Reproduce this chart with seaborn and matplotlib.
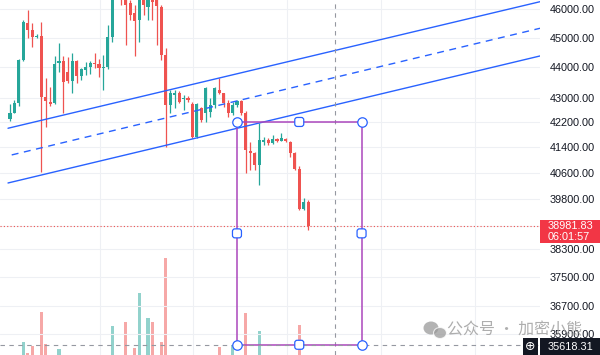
import matplotlib
matplotlib.use("Agg")
import matplotlib.pyplot as plt
import matplotlib.transforms as mtransforms
from matplotlib.patches import Rectangle, FancyBboxPatch, Ellipse
from matplotlib.ticker import NullLocator
import numpy as np
import seaborn as sns

# ---- candle data (bar index = position in list) ----
opens = [42303, 42497, 42822, 44248, 45512, 45270, 45029, 45064, 43018, 42855,
         42822, 44147, 44214, 43845, 43546, 44214, 43712, 43912, 44013, 44147,
         44113, 43979, 44013, 45029, 46670, 47206, 46493, 46210, 45860, 45616,
         46493, 46070, 46599, 46422, 46070, 44417, 42757, 43084, 43149, 42953,
         42986, 42790, 41728, 42659, 42497, 42530, 42757, 43248, 43149, 42822,
         42497, 42757, 42887, 42497, 41285, 41222, 40847, 41569, 41632, 41537,
         41664, 41600, 41664, 41569, 41222, 40723, 39501, 39712]
highs = [42790, 42920, 44282, 45616, 45965, 45512, 45132, 45547, 43646, 43347,
         44383, 44824, 44383, 44349, 44484, 44248, 43979, 44181, 44214, 44484,
         44282, 44417, 45443, 46849, 47386, 47386, 46670, 46316, 46140, 46550,
         46670, 46849, 46742, 46599, 46140, 44654, 43248, 43248, 43215, 43084,
         43051, 42855, 42822, 42692, 43347, 42986, 43347, 43646, 43160, 42920,
         42855, 42920, 42920, 42562, 41569, 41253, 42175, 41728, 41696, 41791,
         41696, 41855, 41696, 41600, 41253, 40816, 39833, 39772]
lows = [42239, 42480, 42725, 44214, 44995, 44688, 44995, 40630, 42046, 42725,
        42790, 43845, 42497, 43480, 43149, 43480, 43579, 43746, 43779, 43979,
        43679, 43248, 43946, 44858, 46493, 46140, 44756, 45616, 44383, 44858,
        45790, 45616, 45616, 44756, 44248, 41411, 42497, 42659, 42822, 42594,
        42855, 41696, 41696, 42207, 42207, 42368, 42659, 43117, 42692, 42368,
        42433, 42692, 42433, 40600, 40692, 40692, 40230, 41474, 41474, 41505,
        41569, 41590, 41569, 41097, 40692, 39471, 39471, 38874]
closes = [42497, 42822, 44248, 45547, 45270, 45029, 45064, 43018, 42887, 42790,
          44113, 44214, 43513, 43546, 44214, 43712, 43946, 44013, 44147, 44113,
          43979, 44013, 45029, 46670, 47206, 46742, 46140, 45790, 45581, 46400,
          46140, 46670, 46246, 46105, 44417, 42757, 43149, 43149, 42855, 42986,
          42920, 41728, 42790, 42271, 43314, 42757, 43314, 43149, 42822, 42497,
          42757, 42887, 42497, 41316, 41222, 40847, 41632, 41632, 41537, 41664,
          41600, 41696, 41600, 41222, 40723, 39501, 39712, 38981.83]
volumes = [12, 15, 18, 33, 22, 29, 10, 63, 31, 14,
           17, 26, 12, 9, 11, 8, 7, 10, 9, 8,
           11, 13, 18, 49, 16, 14, 53, 12, 27, 82,
           15, 57, 53, 18, 33, 117, 16, 11, 9, 12,
           8, 17, 15, 10, 14, 9, 12, 28, 13, 11,
           30, 12, 16, 62, 18, 14, 44, 9, 8, 10,
           7, 9, 8, 12, 16, 50, 14, 18]

price_ticks = [46000, 45000, 44000, 43000, 42200, 41400, 40600, 39800,
               38300, 37500, 36700, 35900]
last_price = 38981.83
countdown = "06:01:57"
marker_price = 35618.31

# parallel channel, end points as (bar index, price)
channel_start = [-0.45, 0.38, -0.45]
channel_end = 119.1
upper_line = [42005, 46256]
middle_line = [41160, 45329]
lower_line = [40290, 44383]

# rectangle drawing
box_left, box_mid, box_right = 51, 65, 79
box_top = 42207
box_bottom = marker_price
cursor_bar = 73
time_grid = [20.2, 41.1, 62.2, 83.3, 104.4]

# ---- style ----
sns.set_theme(style="white")
plt.rcParams["font.family"] = ["Liberation Sans", "DejaVu Sans"]

UP = "#26a69a"
DOWN = "#ef5350"
BLUE = "#2962ff"
PURPLE = "#ab47bc"
GRID = "#eef0f4"
TXT = "#131722"

W, H = 600, 355
fig = plt.figure(figsize=(W / 100, H / 100), dpi=100)
rect = [0, 0, 540 / W, 1]
vax = fig.add_axes(rect)
ax = fig.add_axes(rect)
ax.patch.set_alpha(0)

idx = np.arange(len(opens))
o = np.array(opens, float)
c = np.array(closes, float)
colors = [UP if cc >= oo else DOWN for oo, cc in zip(o, c)]

xlim = (-2.25, 119.1)

# volume pane (behind)
vax.bar(idx, volumes, width=0.7, color=colors, alpha=0.5, linewidth=0)
vax.set_xlim(*xlim)
vax.set_ylim(20, 375)
vax.axis("off")

# price pane
ax.set_yscale("log")
ax.set_xlim(*xlim)
ax.set_ylim(35342, 46316)

for p in price_ticks + [39000]:
    ax.axhline(p, color=GRID, lw=0.8, zorder=0)
for t in time_grid:
    ax.axvline(t, color=GRID, lw=0.8, zorder=0)

ax.vlines(idx, lows, highs, colors=colors, lw=0.9, zorder=2)
bottoms = np.minimum(o, c)
heights = np.maximum(np.abs(c - o), 30)
ax.bar(idx, heights, bottom=bottoms, width=0.7, color=colors, linewidth=0, zorder=3)

# channel
xs = [channel_start[0], channel_end]
ax.plot(xs, upper_line, color=BLUE, lw=1.0, zorder=4)
ax.plot([channel_start[1], channel_end], middle_line, color=BLUE, lw=1.0,
        ls=(0, (5, 4)), zorder=4)
ax.plot([channel_start[2], channel_end], lower_line, color=BLUE, lw=1.0, zorder=4)

# price lines
ax.axhline(last_price, color=DOWN, lw=0.8, ls=(0, (1, 2)), zorder=4)
ax.axvline(cursor_bar, color="#9598a1", lw=0.8, ls=(0, (4, 4)), zorder=4)

# rectangle
ax.plot([box_left, box_right, box_right, box_left, box_left],
        [box_top, box_top, box_bottom, box_bottom, box_top],
        color=PURPLE, lw=1.1, zorder=5)
ax.axhline(marker_price, color="#9598a1", lw=0.8, ls=(0, (4, 4)), zorder=6)

box_mid_price = np.sqrt(box_top * box_bottom)
for bx, by in [(box_left, box_top), (box_right, box_top),
               (box_left, box_bottom), (box_right, box_bottom)]:
    ax.plot(bx, by, marker="o", ms=6.8, mfc="white", mec=BLUE, mew=0.9,
            zorder=7, clip_on=False)
ident = mtransforms.IdentityTransform()
for bx, by in [(box_mid, box_top), (box_mid, box_bottom),
               (box_left, box_mid_price), (box_right, box_mid_price)]:
    dx, dy = ax.transData.transform((bx, by))
    fig.add_artist(FancyBboxPatch((dx - 4.5, dy - 4.5), 9, 9,
                                  boxstyle="round,pad=0,rounding_size=2.5",
                                  fc="white", ec=BLUE, lw=0.9,
                                  transform=ident, zorder=8))

# axis labels on the right
ax.set_yticks(price_ticks)
ax.set_yticklabels([f"{p:.2f}" for p in price_ticks])
ax.yaxis.set_minor_locator(NullLocator())
ax.yaxis.tick_right()
ax.tick_params(axis="y", length=0, pad=7, labelsize=7.8, labelcolor=TXT)
ax.set_xticks([])
for s in ax.spines.values():
    s.set_visible(False)


def fx(x):
    return x / W


def fy(y):
    return 1 - y / H


# last price tag
fig.add_artist(Rectangle((fx(540), fy(243)), 60 / W, 23 / H, transform=fig.transFigure,
                         fc="#f23645", ec="none", zorder=9))
fig.text(fx(548), fy(225.5), f"{last_price:.2f}", color="white", fontsize=7.8,
         va="center", zorder=10)
fig.text(fx(548), fy(237), countdown, color="white", fontsize=7.8,
         va="center", zorder=10)

# watermark
wm_col = "#9a9a9a"
fig.add_artist(Ellipse((431, H - 328), 15, 13, transform=ident, fc=wm_col,
                       alpha=0.75, ec="none", zorder=9))
fig.add_artist(Ellipse((440, H - 333), 13, 11, transform=ident, fc=wm_col,
                       alpha=0.75, ec="white", lw=0.8, zorder=9))
fig.text(fx(447), fy(330), "公众号 · 加密小熊", color=wm_col, alpha=0.8, fontsize=11.5,
         va="center", family=["Noto Sans CJK SC", "DejaVu Sans"], zorder=9)

# crosshair marker tag
fig.add_artist(Rectangle((fx(523), fy(355)), 15 / W, 17 / H, transform=fig.transFigure,
                         fc=TXT, ec="none", zorder=11))
fig.text(fx(530.5), fy(346.5), "⊕", color="white", fontsize=9, ha="center",
         va="center", family=["DejaVu Sans"], zorder=12)
fig.add_artist(Rectangle((fx(540), fy(355)), 60 / W, 17 / H, transform=fig.transFigure,
                         fc=TXT, ec="none", zorder=11))
fig.text(fx(548), fy(346.5), f"{marker_price:.2f}", color="white", fontsize=7.8,
         va="center", zorder=12)

fig.savefig("out.png", dpi=100)
